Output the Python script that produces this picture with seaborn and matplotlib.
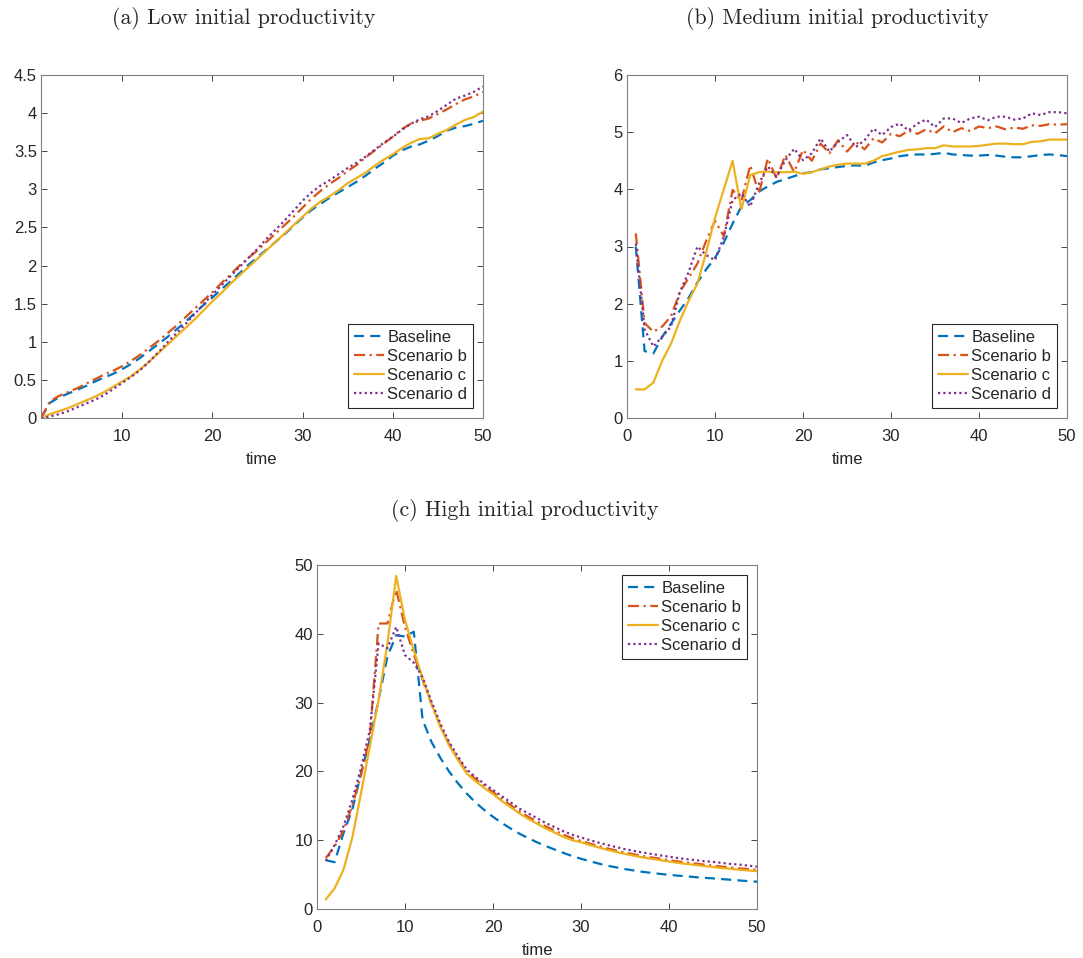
#productivity scenarios - three panels
import numpy as np
import pandas as pd
import matplotlib
matplotlib.use("Agg")
import matplotlib.pyplot as plt
import seaborn as sb
from matplotlib.ticker import FuncFormatter, MultipleLocator

#data
labels = ["Baseline", "Scenario b", "Scenario c", "Scenario d"]
t = list(range(1, 51))

#(a) low initial productivity
low_base = [0.00, 0.20, 0.27, 0.32, 0.37, 0.42, 0.48, 0.53, 0.58, 0.64,
            0.71, 0.79, 0.88, 0.97, 1.06, 1.16, 1.26, 1.37, 1.48, 1.58,
            1.69, 1.79, 1.90, 2.01, 2.11, 2.21, 2.31, 2.41, 2.52, 2.63,
            2.73, 2.81, 2.89, 2.96, 3.03, 3.10, 3.18, 3.27, 3.35, 3.44,
            3.51, 3.56, 3.59, 3.64, 3.70, 3.77, 3.81, 3.83, 3.86, 3.90]
low_b = [0.00, 0.22, 0.29, 0.34, 0.39, 0.45, 0.51, 0.57, 0.62, 0.68,
         0.75, 0.83, 0.92, 1.01, 1.11, 1.21, 1.32, 1.43, 1.54, 1.65,
         1.77, 1.88, 2.00, 2.10, 2.20, 2.31, 2.42, 2.53, 2.64, 2.76,
         2.88, 2.98, 3.07, 3.15, 3.24, 3.32, 3.42, 3.51, 3.60, 3.69,
         3.79, 3.86, 3.90, 3.93, 3.99, 4.05, 4.12, 4.18, 4.22, 4.28]
low_c = [0.00, 0.05, 0.09, 0.13, 0.18, 0.23, 0.28, 0.34, 0.41, 0.48,
         0.55, 0.64, 0.74, 0.85, 0.96, 1.07, 1.18, 1.29, 1.41, 1.53,
         1.64, 1.76, 1.87, 1.98, 2.09, 2.20, 2.31, 2.42, 2.53, 2.64,
         2.75, 2.84, 2.91, 2.99, 3.08, 3.15, 3.22, 3.31, 3.39, 3.46,
         3.54, 3.61, 3.66, 3.67, 3.73, 3.78, 3.85, 3.91, 3.95, 4.02]
low_d = [0.00, 0.02, 0.05, 0.09, 0.14, 0.19, 0.24, 0.30, 0.38, 0.46,
         0.54, 0.63, 0.74, 0.86, 0.99, 1.11, 1.23, 1.36, 1.49, 1.62,
         1.74, 1.86, 1.98, 2.10, 2.22, 2.35, 2.47, 2.59, 2.72, 2.85,
         2.96, 3.05, 3.12, 3.20, 3.28, 3.35, 3.43, 3.52, 3.61, 3.69,
         3.78, 3.86, 3.92, 3.96, 4.03, 4.11, 4.19, 4.23, 4.28, 4.35]

#(b) medium initial productivity
med_base = [3.00, 1.17, 1.13, 1.42, 1.65, 1.88, 2.10, 2.37, 2.60, 2.80,
            3.07, 3.40, 3.70, 3.81, 3.96, 4.05, 4.13, 4.18, 4.23, 4.28,
            4.30, 4.35, 4.37, 4.39, 4.41, 4.42, 4.41, 4.47, 4.51, 4.54,
            4.58, 4.60, 4.61, 4.61, 4.62, 4.64, 4.61, 4.60, 4.59, 4.59,
            4.60, 4.59, 4.57, 4.56, 4.56, 4.58, 4.60, 4.61, 4.60, 4.58]
med_b = [3.23, 1.66, 1.51, 1.60, 1.78, 2.20, 2.45, 2.70, 3.10, 3.45,
         3.18, 3.99, 3.80, 4.42, 3.93, 4.54, 4.19, 4.60, 4.30, 4.69,
         4.50, 4.80, 4.63, 4.86, 4.66, 4.83, 4.70, 4.89, 4.82, 4.97,
         4.93, 5.03, 4.97, 5.05, 4.98, 5.10, 5.00, 5.07, 5.02, 5.10,
         5.07, 5.10, 5.05, 5.08, 5.06, 5.12, 5.11, 5.14, 5.13, 5.14]
med_c = [0.50, 0.50, 0.62, 1.00, 1.30, 1.70, 2.05, 2.35, 2.90, 3.50,
         4.00, 4.50, 3.65, 4.25, 4.30, 4.31, 4.30, 4.30, 4.31, 4.27,
         4.30, 4.35, 4.40, 4.43, 4.45, 4.45, 4.45, 4.50, 4.58, 4.62,
         4.66, 4.69, 4.70, 4.72, 4.72, 4.77, 4.75, 4.75, 4.75, 4.76,
         4.78, 4.80, 4.80, 4.79, 4.79, 4.83, 4.84, 4.87, 4.87, 4.87]
med_d = [3.05, 1.55, 1.25, 1.42, 1.60, 2.20, 2.55, 3.00, 2.85, 2.76,
         3.17, 3.81, 3.93, 3.70, 4.10, 4.40, 4.22, 4.51, 4.71, 4.51,
         4.63, 4.89, 4.66, 4.83, 4.95, 4.74, 4.86, 5.06, 4.95, 5.09,
         5.15, 5.03, 5.15, 5.22, 5.09, 5.24, 5.24, 5.16, 5.24, 5.27,
         5.21, 5.27, 5.27, 5.22, 5.24, 5.33, 5.30, 5.35, 5.35, 5.33]

#(c) high initial productivity
high_base = [7.1, 6.8, 11.0, 14.4, 19.7, 24.6, 30.4, 36.7, 39.8, 39.6,
             40.3, 27.5, 24.3, 22.0, 20.0, 18.3, 16.8, 15.5, 14.4, 13.4,
             12.5, 11.7, 10.95, 10.3, 9.7, 9.15, 8.65, 8.15, 7.7, 7.3,
             6.95, 6.6, 6.3, 6.05, 5.8, 5.6, 5.4, 5.25, 5.1, 4.95,
             4.85, 4.75, 4.63, 4.53, 4.45, 4.35, 4.25, 4.15, 4.05, 3.97]
high_b = [7.4, 9.1, 11.4, 15.0, 19.5, 25.0, 41.5, 41.5, 46.4, 41.0,
          37.0, 33.3, 29.8, 26.6, 24.0, 21.9, 20.0, 18.9, 17.9, 17.0,
          16.0, 15.1, 14.2, 13.4, 12.7, 12.0, 11.4, 10.8, 10.3, 9.9,
          9.5, 9.15, 8.8, 8.5, 8.2, 7.95, 7.7, 7.5, 7.3, 7.1,
          6.9, 6.75, 6.6, 6.45, 6.3, 6.15, 6.05, 5.9, 5.8, 5.7]
high_c = [1.4, 3.0, 5.7, 10.3, 16.8, 23.6, 30.4, 38.6, 48.4, 42.0,
          37.6, 33.5, 29.9, 26.5, 23.8, 21.7, 19.7, 18.6, 17.6, 16.7,
          15.7, 14.8, 13.9, 13.1, 12.4, 11.7, 11.1, 10.5, 10.0, 9.7,
          9.3, 8.95, 8.6, 8.3, 8.0, 7.75, 7.5, 7.3, 7.1, 6.9,
          6.7, 6.55, 6.4, 6.25, 6.1, 5.95, 5.85, 5.7, 5.6, 5.5]
high_d = [7.0, 9.3, 12.0, 15.8, 20.5, 26.0, 38.6, 37.9, 41.0, 36.9,
          35.8, 33.7, 30.2, 27.0, 24.3, 22.2, 20.3, 19.2, 18.2, 17.3,
          16.4, 15.5, 14.6, 13.9, 13.2, 12.5, 11.9, 11.3, 10.8, 10.4,
          10.0, 9.65, 9.3, 9.0, 8.7, 8.45, 8.2, 8.0, 7.8, 7.6,
          7.4, 7.25, 7.1, 6.95, 6.85, 6.7, 6.55, 6.45, 6.3, 6.15]

#MATLAB-ish look
sb.set_style("ticks")
plt.rcParams["font.family"] = ["Liberation Sans", "DejaVu Sans"]
colors = ["#0072BD", "#D95319", "#EDB120", "#7E2F8E"]
styles = [(0, (4.5, 2.8)), (0, (5, 2, 1, 2)), "-", (0, (1, 1.4))]
axcol = "#262626"

fig = plt.figure(figsize=(10.83, 9.58), dpi=100)
ax_a = fig.add_axes([41/1083, 1-418/958, 442/1083, 343/958])
ax_b = fig.add_axes([627/1083, 1-418/958, 440/1083, 343/958])
ax_c = fig.add_axes([317/1083, 1-909/958, 440/1083, 344/958])

panels = [
    (ax_a, [low_base, low_b, low_c, low_d], (1, 50), (0, 4.5), 0.5),
    (ax_b, [med_base, med_b, med_c, med_d], (0, 50), (0, 6), 1),
    (ax_c, [high_base, high_b, high_c, high_d], (0, 50), (0, 50), 10),
]

def fmt(v, pos):
    return "%g" % v

for ax, series, xl, yl, ystep in panels:
    for vals, lab, c, ls in zip(series, labels, colors, styles):
        sb.lineplot(x=t, y=vals, ax=ax, color=c, linestyle=ls, lw=1.6, label=lab)
    ax.set_xlim(*xl)
    ax.set_ylim(*yl)
    ax.xaxis.set_major_locator(MultipleLocator(10))
    ax.yaxis.set_major_locator(MultipleLocator(ystep))
    ax.yaxis.set_major_formatter(FuncFormatter(fmt))
    ax.tick_params(direction="in", top=True, right=True, length=4, width=0.6,
                   colors=axcol, labelsize=12)
    ax.tick_params(axis="x", pad=8)
    ax.tick_params(axis="y", pad=3)
    for s in ax.spines.values():
        s.set_color("#808080")
        s.set_linewidth(0.8)
    ax.set_xlabel("time", fontsize=12, color=axcol, labelpad=6)
    ax.set_ylabel("")

#legends
leg_kw = dict(fontsize=12, handlelength=1.8, handletextpad=0.2, borderpad=0.35,
              labelspacing=0.25, fancybox=False, framealpha=1, borderaxespad=0.6)
for ax, loc in [(ax_a, "lower right"), (ax_b, "lower right"), (ax_c, "upper right")]:
    leg = ax.legend(loc=loc, **leg_kw)
    leg.get_frame().set_edgecolor(axcol)
    leg.get_frame().set_linewidth(0.8)

#subfigure captions
fig.text(244/1083, 1-19/958, "(a) Low initial productivity", family="cmr10",
         fontsize=15.8, ha="center", va="center")
fig.text(837/1083, 1-19/958, "(b) Medium initial productivity", family="cmr10",
         fontsize=15.8, ha="center", va="center")
fig.text(525/1083, 1-511/958, "(c) High initial productivity", family="cmr10",
         fontsize=15.8, ha="center", va="center")

fig.savefig("out.png", dpi=100)
